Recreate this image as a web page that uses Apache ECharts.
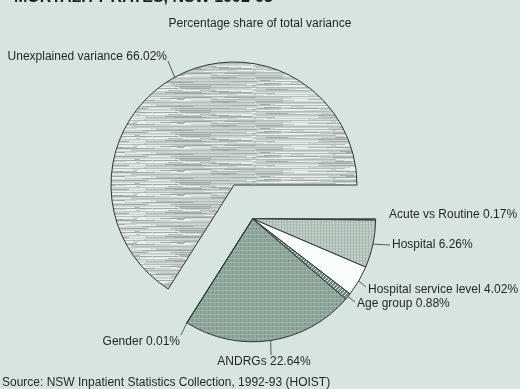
<!DOCTYPE html>
<html>
<head>
<meta charset="utf-8">
<script src="https://cdn.jsdelivr.net/npm/echarts@6/dist/echarts.min.js"></script>
<style>
  html, body { margin: 0; padding: 0; background: #d7e4df; }
  #chart { width: 520px; height: 389px; }
</style>
</head>
<body>
<div id="chart"></div>
<script>
// Components of variance in mortality rates (percent of total)
const categories = ['Acute vs Routine', 'Hospital', 'Hospital service level', 'Age group', 'ANDRGs', 'Gender', 'Unexplained variance'];
const shares = [0.17, 6.26, 4.02, 0.88, 22.64, 0.01, 66.02];
const headline = 'MORTALITY RATES, NSW 1992-93';
const chartTitle = 'Percentage share of total variance';
const sourceNote = 'Source: NSW Inpatient Statistics Collection, 1992-93 (HOIST)';

const UNEXPLAINED = categories.indexOf('Unexplained variance');
const total = shares.reduce((a, b) => a + b, 0);

// Pie geometry: the explained components are pulled out as one block
const R = 123;
const mainCenter = [234, 185];
const explode = 38.6;
const explainedShare = total - shares[UNEXPLAINED];
const groupMid = (explainedShare / 2) / total * Math.PI * 2;   // clockwise from east
const groupCenter = [mainCenter[0] + explode * Math.cos(groupMid), mainCenter[1] + explode * Math.sin(groupMid)];

const FONT = '"Liberation Sans", Arial, sans-serif';

// Label anchors (text position, alignment, leader end point)
const labelSpots = {
  'Acute vs Routine':       { x: 389, y: 215, align: 'left',   end: null },
  'Hospital':               { x: 392, y: 245, align: 'left',   end: [390, 245] },
  'Hospital service level': { x: 368, y: 290, align: 'left',   end: [366, 287] },
  'Age group':              { x: 357, y: 304, align: 'left',   end: [355, 302] },
  'ANDRGs':                 { x: 264, y: 362, align: 'center', end: [271, 355] },
  'Gender':                 { x: 180, y: 342, align: 'right',  end: [181, 335] },
  'Unexplained variance':   { x: 167, y: 57,  align: 'right',  end: [168, 61] }
};

function arcPoint(center, idx) {
  let before = 0;
  for (let i = 0; i < idx; i++) before += shares[i];
  const mid = (before + shares[idx] / 2) / total * Math.PI * 2;
  return [center[0] + R * Math.cos(mid), center[1] + R * Math.sin(mid)];
}

// Fill textures
function makePattern(w, h, draw) {
  const c = document.createElement('canvas');
  c.width = w; c.height = h;
  const g = c.getContext('2d');
  draw(g, w, h);
  return { image: c, repeat: 'repeat' };
}
function hash(n) {
  n = (n ^ 61) ^ (n >>> 16);
  n = n + (n << 3);
  n = n ^ (n >>> 4);
  n = Math.imul(n, 0x27d4eb2d);
  n = n ^ (n >>> 15);
  return n >>> 0;
}
// horizontal streaks: long light and dark runs on a grey base
const streaks = makePattern(256, 24, (g, w, h) => {
  for (let r = 0; r < h; r++) {
    const base = (r % 3 === 0) ? '#b3bcb8' : (r % 3 === 1 ? '#c6cecb' : '#ced5d2');
    g.fillStyle = base;
    g.fillRect(0, r, w, 1);
    let x = hash(r * 131 + 7) % 40;
    let k = 0;
    while (x < w) {
      const hv = hash(r * 977 + k * 53 + 11);
      const len = 10 + (hv % 45);
      const tone = (hv >>> 8) % 4;
      if (tone === 0) g.fillStyle = '#e9eeec';
      else if (tone === 1) g.fillStyle = '#a0aaa6';
      else g.fillStyle = null;
      if (g.fillStyle && tone < 2) g.fillRect(x, r, Math.min(len, w - x), 1);
      x += len + ((hv >>> 16) % 20);
      k++;
    }
  }
});
const darkGrid = makePattern(8, 8, (g, w, h) => {
  g.fillStyle = '#8ea69d'; g.fillRect(0, 0, w, h);
  g.fillStyle = '#7e978d'; g.fillRect(0, 0, 1, h); g.fillRect(4, 0, 1, h);
  g.fillStyle = '#9fb4ab'; g.fillRect(0, 2, w, 1); g.fillRect(0, 6, w, 1);
});
const lightGrid = makePattern(6, 6, (g, w, h) => {
  g.fillStyle = '#b6c5bf'; g.fillRect(0, 0, w, h);
  g.fillStyle = '#c7d3ce'; g.fillRect(0, 1, w, 1); g.fillRect(0, 4, w, 1);
  g.fillStyle = '#a9b9b2'; g.fillRect(2, 0, 1, h); g.fillRect(5, 0, 1, h);
});
const hatch = makePattern(4, 4, (g, w, h) => {
  g.fillStyle = '#6f8a80'; g.fillRect(0, 0, w, h);
  g.fillStyle = '#e8efec';
  for (let i = 0; i < 4; i++) g.fillRect(i, 3 - i, 1, 1);
});
const fills = {
  'Acute vs Routine': '#8d9c96',
  'Hospital': lightGrid,
  'Hospital service level': '#fbfdfc',
  'Age group': hatch,
  'ANDRGs': darkGrid,
  'Gender': '#7d968c',
  'Unexplained variance': streaks
};

function buildData(visible) {
  return categories.map((name, i) => {
    const show = visible(i);
    return {
      name: name,
      value: shares[i],
      itemStyle: show
        ? { color: fills[name], borderColor: '#2c3834', borderWidth: 1 }
        : { color: 'rgba(0,0,0,0)', borderWidth: 0 },
      label: { show: show },
      labelLine: { show: show && labelSpots[name].end !== null }
    };
  });
}

function layoutFor(center) {
  return function (params) {
    const name = categories[params.dataIndex];
    const spot = labelSpots[name];
    const out = { x: spot.x, y: spot.y, align: spot.align, verticalAlign: 'middle' };
    if (spot.end) out.labelLinePoints = [arcPoint(center, params.dataIndex), spot.end];
    return out;
  };
}

const baseSeries = {
  type: 'pie',
  radius: [0, R],
  startAngle: 0,
  clockwise: true,
  minAngle: 0,
  avoidLabelOverlap: false,
  silent: true,
  label: {
    position: 'outside',
    formatter: p => p.name + ' ' + p.value.toFixed(2) + '%',
    color: '#1f2522',
    fontFamily: FONT,
    fontSize: 12
  },
  labelLine: { lineStyle: { color: '#2c3834', width: 0.8 } },
  emphasis: { disabled: true }
};

const chart = echarts.init(document.getElementById('chart'), null, { renderer: 'canvas' });
chart.setOption({
  backgroundColor: '#d7e4df',
  animation: false,
  title: {
    text: chartTitle,
    left: 'center',
    top: 13,
    textStyle: { fontFamily: FONT, fontSize: 12, fontWeight: 'normal', color: '#1f2522' }
  },
  graphic: [
    {
      type: 'text', left: 14, top: -10,
      style: { text: headline, font: 'bold 16px ' + FONT, fill: '#1a1f1d' }
    },
    {
      type: 'text', left: 2, top: 377,
      style: { text: sourceNote, font: '12px ' + FONT, fill: '#1f2522' }
    }
  ],
  series: [
    Object.assign({}, baseSeries, {
      name: 'unexplained',
      center: mainCenter,
      data: buildData(i => i === UNEXPLAINED),
      labelLayout: layoutFor(mainCenter)
    }),
    Object.assign({}, baseSeries, {
      name: 'explained',
      center: groupCenter,
      data: buildData(i => i !== UNEXPLAINED),
      labelLayout: layoutFor(groupCenter)
    })
  ]
});
</script>
</body>
</html>
